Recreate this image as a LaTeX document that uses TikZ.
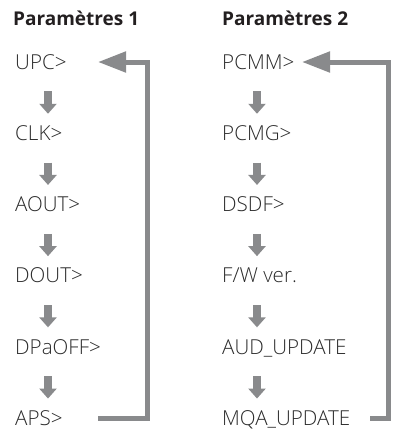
\documentclass[tikz,border=0pt]{standalone}
\usepackage{fontspec}
\setmainfont{Open Sans}
\newfontfamily\lightfont{Open Sans Light}
\usetikzlibrary{arrows.meta}
\definecolor{arrgray}{HTML}{898A8C}
\definecolor{txt}{HTML}{2A2A2A}
\definecolor{ttl}{HTML}{231F20}
\tikzset{
  item/.style={anchor=west,inner sep=0pt,text height=14.5pt,text depth=0pt,text=txt,font=\lightfont\fontsize{20.6}{22}\selectfont},
  title/.style={anchor=base west,inner sep=0pt,text=ttl,font=\fontsize{19}{22}\selectfont\bfseries},
  downarr/.style={draw=arrgray,line width=8pt,-{Triangle[length=10pt,width=17pt]}},
  looparr/.style={draw=arrgray,line width=5pt,-{Triangle[length=28pt,width=20pt]}}
}
\begin{document}
\begin{tikzpicture}[x=1pt,y=-1pt]
\useasboundingbox (0,0) rectangle (393,432);
\node[title] (t1) at (13,25) {Paramètres 1};
\node[title] (t2) at (222,25) {Paramètres 2};
% left column
\node[item] (upc) at (15,62) {UPC>};
\node[item] (clk) at (15,133.2) {CLK>};
\node[item] (aout) at (15,204.4) {AOUT>};
\node[item] (dout) at (15,275.6) {DOUT>};
\node[item] (dpa) at (15,346.8) {DPaOFF>};
\node[item] (aps) at (15,418) {APS>};
% right column
\node[item] (pcmm) at (222,62) {PCMM>};
\node[item] (pcmg) at (222,133.2) {PCMG>};
\node[item] (dsdf) at (222,204.4) {DSDF>};
\node[item] (fw) at (222,275.6) {F/W ver.};
\node[item] (aud) at (222,346.8) {AUD\_UPDATE};
\node[item] (mqa) at (222,418) {MQA\_UPDATE};
% down arrows
\foreach \a/\b in {upc/clk,clk/aout,aout/dout,dout/dpa,dpa/aps}{
  \draw[downarr] ([xshift=33pt,yshift=-22pt]\a.south west) -- ([xshift=33pt,yshift=12pt]\b.north west);
}
\foreach \a/\b in {pcmm/pcmg,pcmg/dsdf,dsdf/fw,fw/aud,aud/mqa}{
  \draw[downarr] ([xshift=35pt,yshift=-22pt]\a.south west) -- ([xshift=35pt,yshift=12pt]\b.north west);
}
% loops
\coordinate (lin) at (98,0);
\coordinate (lv) at (147,0);
\coordinate (rin) at (302,0);
\coordinate (rout) at (370,0);
\coordinate (rv) at (388,0);
\draw[looparr] (aps.east -| lin) -- (aps.east -| lv) -- (upc.east -| lv) -- (upc.east -| lin);
\draw[looparr] (mqa.east -| rout) -- (mqa.east -| rv) -- (pcmm.east -| rv) -- (pcmm.east -| rin);
\end{tikzpicture}
\end{document}
